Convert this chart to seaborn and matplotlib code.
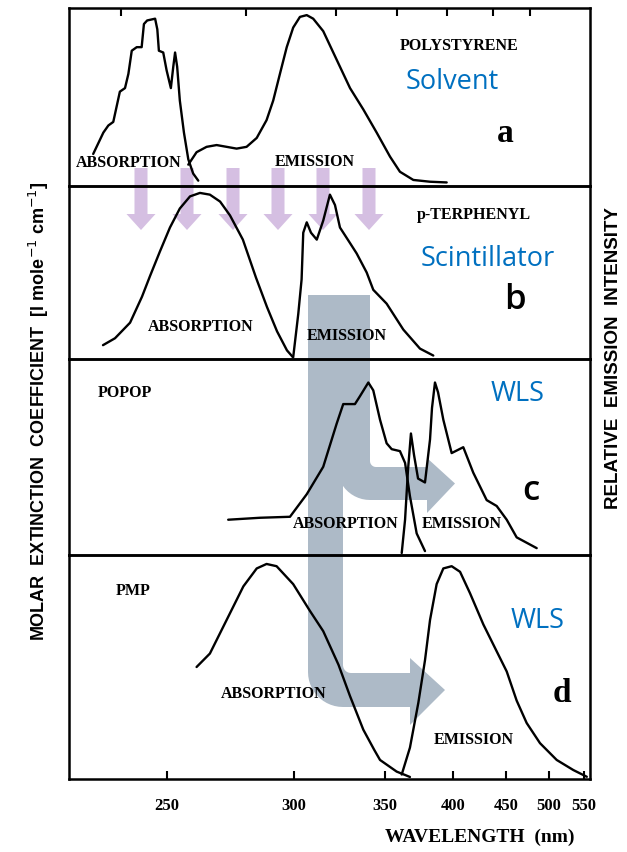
import numpy as np
import pandas as pd
import matplotlib
matplotlib.use("Agg")
import matplotlib.pyplot as plt
from matplotlib.patches import Polygon
import seaborn as sns

# ---------------- spectra: wavelength (nm) and relative intensity ----------------
# (a) polystyrene
ps_abs_nm = [228.1, 230.9, 232.3, 233.7, 234.7, 235.6, 237.1, 238.1, 239.1, 240.6, 242.1,
             242.8, 243.8, 246.3, 247.0, 247.5, 248.9, 250.0, 251.4, 252.2, 252.8, 253.5,
             254.4, 255.8, 257.3, 259.0, 260.8]
ps_abs_val = [0.18, 0.30, 0.34, 0.36, 0.45, 0.53, 0.55, 0.63, 0.76, 0.78, 0.78,
              0.91, 0.93, 0.94, 0.88, 0.76, 0.75, 0.65, 0.55, 0.67, 0.75, 0.67,
              0.48, 0.30, 0.15, 0.07, 0.03]
ps_em_nm = [257.3, 260.2, 263.8, 267.5, 271.3, 275.2, 279.2, 283.4, 287.6, 290.5, 293.5,
            296.6, 299.6, 302.8, 306.1, 309.3, 314.4, 317.9, 323.3, 328.9, 336.6, 344.7,
            353.2, 359.8, 369.1, 381.4, 394.5]
ps_em_val = [0.12, 0.19, 0.22, 0.23, 0.22, 0.21, 0.22, 0.27, 0.37, 0.48, 0.63,
             0.78, 0.89, 0.95, 0.96, 0.94, 0.87, 0.79, 0.67, 0.55, 0.43, 0.30,
             0.165, 0.08, 0.034, 0.024, 0.02]

# (b) p-terphenyl
tp_abs_nm = [230.8, 234.2, 238.6, 242.2, 244.7, 247.8, 251.1, 254.4, 257.9, 261.4, 265.0,
             268.8, 272.6, 277.7, 283.1, 287.8, 292.2, 296.7, 299.5]
tp_abs_val = [0.08, 0.12, 0.21, 0.36, 0.48, 0.62, 0.76, 0.87, 0.94, 0.96, 0.95,
              0.91, 0.83, 0.69, 0.47, 0.30, 0.16, 0.05, 0.01]
tp_em_nm = [299.6, 302.0, 303.6, 304.4, 306.1, 308.2, 311.1, 314.4, 317.9, 320.6, 323.3,
            328.9, 332.7, 338.6, 342.6, 351.0, 362.1, 373.9, 383.9]
tp_em_val = [0.01, 0.26, 0.46, 0.73, 0.79, 0.73, 0.69, 0.80, 0.95, 0.89, 0.76,
             0.67, 0.61, 0.50, 0.40, 0.32, 0.17, 0.06, 0.02]

# (c) POPOP
popop_abs_nm = [271.9, 284.8, 298.1, 306.1, 314.4, 321.5, 325.1, 331.7, 334.6, 339.6, 342.6,
                346.8, 351.0, 354.3, 359.8, 363.3, 366.7, 371.5, 377.6]
popop_abs_val = [0.18, 0.19, 0.195, 0.31, 0.45, 0.67, 0.77, 0.77, 0.81, 0.88, 0.84,
                 0.69, 0.57, 0.54, 0.53, 0.47, 0.30, 0.11, 0.02]
popop_em_nm = [361.0, 363.3, 365.3, 367.4, 369.6, 372.5, 377.6, 381.4, 382.9, 385.2, 387.6,
               391.8, 398.6, 408.5, 417.4, 430.0, 439.9, 450.3, 461.1, 484.5]
popop_em_val = [0.01, 0.18, 0.43, 0.62, 0.51, 0.39, 0.37, 0.59, 0.75, 0.88, 0.83,
                0.69, 0.52, 0.55, 0.42, 0.28, 0.25, 0.18, 0.09, 0.035]

# (d) PMP
pmp_abs_nm = [260.2, 265.0, 271.3, 277.9, 283.4, 287.6, 292.0, 299.6, 307.7, 314.4, 322.5,
              328.9, 336.6, 343.2, 346.8, 357.6, 363.3, 366.7]
pmp_abs_val = [0.50, 0.56, 0.71, 0.86, 0.94, 0.96, 0.95, 0.87, 0.75, 0.66, 0.51,
               0.37, 0.22, 0.13, 0.085, 0.033, 0.018, 0.009]
pmp_em_nm = [361.0, 366.7, 372.7, 377.6, 381.4, 386.5, 391.8, 398.6, 405.7, 414.4, 426.8,
             439.9, 450.3, 461.1, 472.5, 488.6, 510.4, 534.1, 555.0]
pmp_em_val = [0.02, 0.14, 0.34, 0.53, 0.71, 0.87, 0.94, 0.95, 0.925, 0.83, 0.69,
              0.57, 0.48, 0.35, 0.25, 0.16, 0.085, 0.04, 0.01]

# axis ticks
wl_ticks = [250, 300, 350, 400, 450, 500, 550]
top_ticks = [236, 279, 321, 358, 395, 436, 477]
wl_limits = (221.7, 560.2)

panels = [
    ("POLYSTYRENE", ps_abs_nm, ps_abs_val, ps_em_nm, ps_em_val),
    ("p-TERPHENYL", tp_abs_nm, tp_abs_val, tp_em_nm, tp_em_val),
    ("POPOP", popop_abs_nm, popop_abs_val, popop_em_nm, popop_em_val),
    ("PMP", pmp_abs_nm, pmp_abs_val, pmp_em_nm, pmp_em_val),
]

# ---------------- figure ----------------
sns.set_theme(style="white")
plt.rcParams["font.family"] = ["Liberation Serif", "DejaVu Sans"]
plt.rcParams["text.color"] = "black"

W, H = 627, 852
fig = plt.figure(figsize=(W / 100, H / 100), dpi=100)
fig.patch.set_facecolor("white")


def fx(x):
    return x / W


def fy(y):
    return 1 - y / H


def recip(x):
    x = np.asarray(x, dtype=float)
    with np.errstate(divide="ignore", invalid="ignore"):
        return -1000.0 / x


LEFT, RIGHT = 69, 590
edges = [8, 186, 359, 555, 779]

# overlay layer for the energy-transfer arrows (drawn beneath the spectra)
ov = fig.add_axes([0, 0, 1, 1])
ov.set_zorder(0)
ov.set_xlim(0, W)
ov.set_ylim(H, 0)
ov.axis("off")

purple = "#D5BFE2"
for cx in [141, 187, 233, 278, 323, 369]:
    shaft, head = 6.5, 14.5
    pts = [(cx - shaft, 168), (cx + shaft, 168), (cx + shaft, 214), (cx + head, 214),
           (cx, 230), (cx - head, 214), (cx - shaft, 214)]
    ov.add_patch(Polygon(pts, closed=True, facecolor=purple, edgecolor="none"))


def bent_arrow(xl, xr, yt, ybt, ybb, xhb, ht, hb, tip, r_out, r_in):
    pts = [(xl, yt), (xr, yt), (xr, ybt - r_in)]
    th = np.linspace(np.pi, np.pi / 2, 12)
    cx, cy = xr + r_in, ybt - r_in
    pts += list(zip(cx + r_in * np.cos(th), cy + r_in * np.sin(th)))
    pts += [(xhb, ybt), (xhb, ht), (tip, (ybt + ybb) / 2), (xhb, hb), (xhb, ybb)]
    th = np.linspace(np.pi / 2, np.pi, 14)
    cx, cy = xl + r_out, ybb - r_out
    pts += list(zip(cx + r_out * np.cos(th), cy + r_out * np.sin(th)))
    return Polygon(pts, closed=True, facecolor="#ADBAC7", edgecolor="none")


ov.add_patch(bent_arrow(337, 370, 295, 467, 500, 427, 458, 513, 455, 33, 6))
ov.add_patch(bent_arrow(308, 343, 295, 673, 707, 410, 658, 725, 445, 35, 8))

axes = []
for i, (name, a_nm, a_v, e_nm, e_v) in enumerate(panels):
    top, bot = edges[i], edges[i + 1]
    ax = fig.add_axes([fx(LEFT), fy(bot), fx(RIGHT) - fx(LEFT), (bot - top) / H])
    ax.set_zorder(1)
    ax.patch.set_visible(False)
    ax.set_xscale("function", functions=(recip, recip))
    df = pd.concat([
        pd.DataFrame({"nm": a_nm, "val": a_v, "band": "absorption"}),
        pd.DataFrame({"nm": e_nm, "val": e_v, "band": "emission"}),
    ], ignore_index=True)
    sns.lineplot(data=df, x="nm", y="val", units="band", estimator=None, sort=False,
                 color="black", linewidth=1.7, ax=ax, legend=False)
    ax.set_xlim(*wl_limits)
    ax.set_ylim(0, 1)
    ax.set_xlabel("")
    ax.set_ylabel("")
    ax.set_yticks([])
    ax.set_xticks([])
    ax.minorticks_off()
    for sp in ax.spines.values():
        sp.set_visible(True)
        sp.set_color("black")
        sp.set_linewidth(1.8)
    axes.append(ax)

# wavelength axis at the bottom
axd = axes[-1]
axd.set_xticks(wl_ticks)
axd.set_xticklabels([str(t) for t in wl_ticks], fontsize=12, fontweight="bold",
                    family="Liberation Serif", color="black")
axd.tick_params(axis="x", direction="in", length=6, width=1.5, pad=14, bottom=True,
                color="black")

# unlabelled tick marks along the top of panel (a)
axa = axes[0]
axa.set_xticks(top_ticks)
axa.set_xticklabels([])
axa.tick_params(axis="x", direction="in", length=6, width=1.5, top=True, bottom=False,
                labeltop=False, labelbottom=False, color="black")

# ---------------- text ----------------
serif = dict(family="Liberation Serif", weight="bold", color="black", fontsize=11.5,
             ha="center", va="center")
labels = [
    ("ABSORPTION", 129, 163), ("EMISSION", 315, 162), ("POLYSTYRENE", 459, 46),
    ("p-TERPHENYL", 474, 215), ("ABSORPTION", 201, 327), ("EMISSION", 347, 336),
    ("POPOP", 125, 393), ("ABSORPTION", 346, 524), ("EMISSION", 462, 524),
    ("PMP", 133, 591), ("ABSORPTION", 274, 694), ("EMISSION", 474, 740),
]
for s, x, y in labels:
    fig.text(fx(x), fy(y), s, zorder=5, **serif)

blue = dict(family="Open Sans", color="#0070C0", fontsize=19.5, ha="center", va="center")
for s, x, y in [("Solvent", 452, 82), ("Scintillator", 488, 259),
                ("WLS", 518, 394), ("WLS", 538, 621)]:
    fig.text(fx(x), fy(y), s, zorder=5, **blue)

fig.text(fx(505), fy(133), "a", family="Liberation Serif", weight="bold", fontsize=24,
         color="black", ha="center", va="center", zorder=5)
fig.text(fx(515), fy(300), "b", family="Open Sans", weight="semibold", fontsize=25,
         color="black", ha="center", va="center", zorder=5)
fig.text(fx(531), fy(491), "c", family="Open Sans", weight="semibold", fontsize=25,
         color="black", ha="center", va="center", zorder=5)
fig.text(fx(562), fy(694), "d", family="Liberation Serif", weight="bold", fontsize=24,
         color="black", ha="center", va="center", zorder=5)

fig.text(fx(480), fy(837), "WAVELENGTH  (nm)", family="Liberation Serif", weight="bold",
         fontsize=14, color="black", ha="center", va="center", zorder=5)
fig.text(fx(39), fy(411), r"MOLAR  EXTINCTION  COEFFICIENT  [l mole$^{-1}$ cm$^{-1}$]",
         family="Liberation Sans", weight="bold", fontsize=13, rotation=90, color="black",
         ha="center", va="center", zorder=5)
fig.text(fx(614), fy(358), "RELATIVE  EMISSION  INTENSITY", family="Liberation Sans",
         weight="bold", fontsize=13.5, rotation=90, color="black",
         ha="center", va="center", zorder=5)

fig.savefig("out.png", dpi=100, facecolor="white")
